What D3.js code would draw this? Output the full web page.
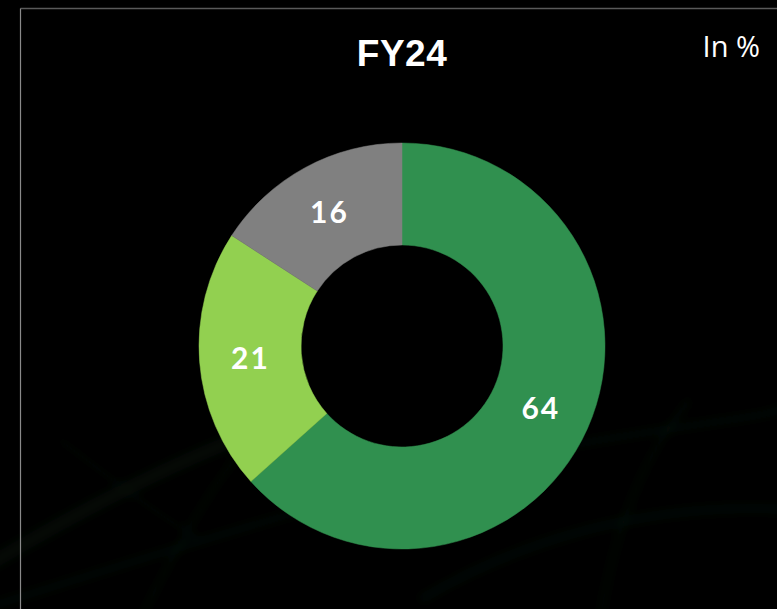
<!DOCTYPE html>
<html>
<head>
<meta charset="utf-8">
<script src="https://cdn.jsdelivr.net/npm/d3@7"></script>
<style>
  html, body { margin: 0; padding: 0; background: #000; overflow: hidden; }
</style>
</head>
<body>
<script>
// data
let categories = ["A", "B", "C"];
let values = [64, 21, 16];
let colors = ["#30904f", "#92d050", "#808080"];
let title = "FY24";
let unitLabel = "In %";

let canvasW = 777;
let canvasH = 609;
let cx = 402;
let cy = 346;
let outerR = 203;
let innerR = 101;

let svg = d3.select("body").append("svg")
  .attr("width", canvasW)
  .attr("height", canvasH)
  .style("display", "block")
  .style("background-color", "#000");

// faint smoke in the background
let defs = svg.append("defs");
defs.append("filter").attr("id", "blur")
  .attr("x", "-20%").attr("y", "-20%").attr("width", "140%").attr("height", "140%")
  .append("feGaussianBlur").attr("stdDeviation", 4);

let smoke = [
  { d: "M -20 570 C 80 510, 180 460, 260 430", w: 14, o: 0.08 },
  { d: "M -20 610 C 200 540, 420 470, 600 440 S 760 420, 800 400", w: 8, o: 0.06 },
  { d: "M 140 620 C 180 540, 220 470, 260 430", w: 6, o: 0.06 },
  { d: "M 600 620 C 610 560, 630 470, 690 400", w: 6, o: 0.06 },
  { d: "M 420 600 C 520 540, 650 500, 800 510", w: 10, o: 0.06 },
  { d: "M 60 440 C 100 470, 150 510, 200 540", w: 5, o: 0.05 }
];

svg.append("g").attr("filter", "url(#blur)")
  .selectAll("path")
  .data(smoke)
  .join("path")
  .attr("d", d => d.d)
  .attr("fill", "none")
  .attr("stroke", "#2f7a4a")
  .attr("stroke-width", d => d.w)
  .attr("opacity", d => d.o);

// frame
svg.append("line").attr("x1", 20.5).attr("x2", canvasW).attr("y1", 8.5).attr("y2", 8.5)
  .attr("stroke", "#5a5a5a").attr("stroke-width", 1.5);
svg.append("line").attr("x1", 20.5).attr("x2", 20.5).attr("y1", 8.5).attr("y2", canvasH)
  .attr("stroke", "#8a8a8a").attr("stroke-width", 1.2);

// titles
svg.append("text")
  .attr("x", cx).attr("y", 66)
  .attr("text-anchor", "middle")
  .attr("font-family", "Liberation Sans, Arial, sans-serif")
  .attr("font-weight", "bold")
  .attr("font-size", "37px")
  .attr("letter-spacing", "0.5px")
  .attr("fill", "#fff")
  .text(title);

svg.append("text")
  .attr("x", 760).attr("y", 57)
  .attr("text-anchor", "end")
  .attr("font-family", "Open Sans, sans-serif")
  .attr("font-size", "29px")
  .attr("fill", "#fff")
  .text(unitLabel);

// donut
let pie = d3.pie().sort(null).value(d => d.value);
let arc = d3.arc().innerRadius(innerR).outerRadius(outerR);
let labelArc = d3.arc().innerRadius((innerR + outerR) / 2).outerRadius((innerR + outerR) / 2);

let slices = pie(categories.map((c, i) => ({ cat: c, value: values[i], color: colors[i] })));

let g = svg.append("g").attr("transform", `translate(${cx},${cy})`);

// keep the hole plain black
g.append("circle").attr("r", innerR).attr("fill", "#000");

g.selectAll("path.slice")
  .data(slices)
  .join("path")
  .attr("class", "slice")
  .attr("d", arc)
  .attr("fill", d => d.data.color)
  .attr("stroke", d => d.data.color)
  .attr("stroke-width", 0.5);

g.selectAll("text.lbl")
  .data(slices)
  .join("text")
  .attr("class", "lbl")
  .attr("transform", d => `translate(${labelArc.centroid(d)})`)
  .attr("text-anchor", "middle")
  .attr("dy", "0.36em")
  .attr("font-family", "Lato, sans-serif")
  .attr("font-weight", "bold")
  .attr("font-size", "30px")
  .attr("letter-spacing", "2px")
  .attr("fill", "#fff")
  .text(d => d.data.value);
</script>
</body>
</html>
